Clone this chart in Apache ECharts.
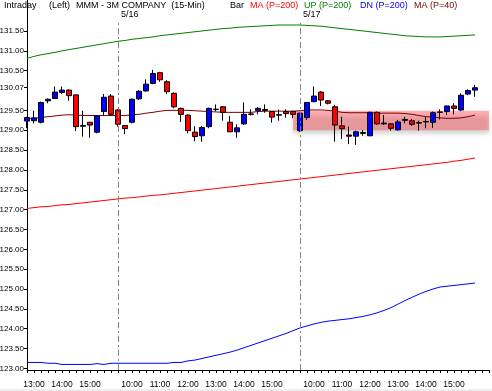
<!DOCTYPE html>
<html>
<head>
<meta charset="utf-8">
<script src="https://cdn.jsdelivr.net/npm/echarts@6/dist/echarts.min.js"></script>
<style>
html,body{margin:0;padding:0;background:#fff;}
#chart{width:492px;height:391px;}
</style>
</head>
<body>
<div id="chart"></div>
<script>
// ---- categories (15-min bar start times, 5/15 pm, 5/16, 5/17) ----
const times = [
 '12:45','13:00','13:15','13:30','13:45','14:00','14:15','14:30','14:45','15:00','15:15','15:30','15:45',
 '09:30','09:45','10:00','10:15','10:30','10:45','11:00','11:15','11:30','11:45','12:00','12:15','12:30',
 '12:45','13:00','13:15','13:30','13:45','14:00','14:15','14:30','14:45','15:00','15:15','15:30','15:45',
 '09:30','09:45','10:00','10:15','10:30','10:45','11:00','11:15','11:30','11:45','12:00','12:15','12:30',
 '12:45','13:00','13:15','13:30','13:45','14:00','14:15','14:30','14:45','15:00','15:15','15:30','15:45'
];
const dayLabels = ['5/16','5/17'];

// ---- OHLC ----
const opens = [129.23,129.24,129.20,129.74,129.80,129.95,130.01,129.89,129.10,129.20,128.95,129.47,129.86,
 129.51,129.12,129.20,129.79,129.99,130.18,130.45,130.22,129.93,129.55,129.38,128.95,128.86,129.09,129.52,129.59,129.20,128.96,129.16,129.40,129.49,129.52,129.47,129.38,129.47,129.47,
 128.99,129.32,129.72,129.96,129.74,129.59,129.11,128.88,128.85,128.92,128.86,129.45,129.18,129.16,129.01,129.25,129.24,129.19,129.21,129.20,129.45,129.47,129.61,129.51,129.91,130.01];
const closes = [129.32,129.31,129.70,129.78,129.96,130.01,129.87,129.09,129.12,129.13,129.36,129.83,129.40,
 129.15,129.04,129.78,129.98,130.16,130.43,130.27,129.97,129.59,129.40,128.99,128.84,129.07,129.55,129.53,129.45,128.96,129.06,129.40,129.41,129.55,129.50,129.33,129.39,129.42,129.40,
 129.43,129.70,129.86,129.76,129.68,129.13,129.04,128.85,128.96,128.94,129.45,129.16,129.16,129.05,129.21,129.27,129.15,129.18,129.22,129.44,129.46,129.61,129.55,129.88,130.00,130.07];
const lows = [129.05,129.17,129.17,129.68,129.79,129.91,129.74,128.98,128.84,128.81,128.92,129.38,129.37,
 129.09,128.90,129.17,129.76,129.97,130.16,130.22,129.91,129.55,129.21,128.92,128.72,128.71,129.05,129.48,129.24,128.95,128.81,129.13,129.37,129.40,129.44,129.19,129.24,129.32,129.30,
 128.96,129.26,129.70,129.61,129.65,128.71,128.78,128.65,128.63,128.86,128.85,129.13,129.13,128.99,128.99,129.17,129.11,128.99,129.05,129.06,129.27,129.38,129.40,129.48,129.88,129.84];
const highs = [129.34,129.49,129.72,129.80,130.10,130.10,130.03,129.90,129.49,129.21,129.38,129.91,129.91,
 129.53,129.13,129.80,130.01,130.28,130.52,130.47,130.26,129.95,129.57,129.40,129.10,129.11,129.57,129.65,129.61,129.36,129.15,129.70,129.53,129.58,129.65,129.48,129.52,129.53,129.49,
 129.44,129.71,130.10,129.98,129.76,129.64,129.34,129.09,128.99,129.01,129.47,129.47,129.38,129.17,129.26,129.34,129.28,129.24,129.33,129.47,129.53,129.62,129.68,129.93,130.03,130.14];

// ---- indicator lines ----
const ma200 = [127.03,127.05,127.07,127.08,127.10,127.12,127.13,127.15,127.17,127.19,127.21,127.23,127.25,
 127.27,127.29,127.30,127.32,127.34,127.36,127.37,127.39,127.41,127.43,127.45,127.47,127.49,127.51,127.53,127.55,127.57,127.59,127.61,127.63,127.65,127.67,127.69,127.71,127.73,127.75,
 127.77,127.79,127.81,127.83,127.85,127.87,127.89,127.91,127.93,127.95,127.97,127.99,128.01,128.03,128.05,128.07,128.09,128.11,128.13,128.15,128.17,128.19,128.22,128.24,128.27,128.30];
const up200 = [130.81,130.86,130.90,130.93,130.96,131.00,131.03,131.06,131.09,131.12,131.15,131.18,131.21,
 131.24,131.26,131.29,131.31,131.33,131.35,131.38,131.40,131.42,131.44,131.46,131.48,131.50,131.52,131.54,131.56,131.57,131.59,131.60,131.61,131.62,131.63,131.64,131.65,131.65,131.65,
 131.65,131.64,131.63,131.62,131.60,131.58,131.56,131.54,131.52,131.50,131.48,131.46,131.44,131.42,131.40,131.38,131.37,131.36,131.35,131.35,131.35,131.36,131.37,131.38,131.39,131.40];
const dn200 = [123.15,123.15,123.15,123.13,123.13,123.10,123.10,123.10,123.10,123.10,123.12,123.10,123.13,
 123.13,123.13,123.13,123.13,123.13,123.13,123.13,123.13,123.15,123.15,123.19,123.21,123.25,123.29,123.33,123.37,123.41,123.46,123.52,123.58,123.64,123.70,123.76,123.82,123.88,123.95,
 124.02,124.07,124.12,124.16,124.19,124.21,124.23,124.25,124.28,124.31,124.35,124.40,124.46,124.53,124.62,124.71,124.79,124.87,124.94,125.00,125.05,125.07,125.09,125.11,125.13,125.15];
const ma40 = [129.30,129.30,129.32,129.34,129.36,129.38,129.39,129.38,129.37,129.37,129.37,129.37,129.37,
 129.37,129.37,129.39,129.40,129.43,129.45,129.48,129.50,129.50,129.50,129.50,129.49,129.48,129.47,129.46,129.45,129.45,129.45,129.45,129.45,129.47,129.48,129.48,129.48,129.48,129.48,
 129.49,129.51,129.51,129.51,129.50,129.48,129.45,129.44,129.44,129.44,129.44,129.43,129.43,129.43,129.43,129.42,129.40,129.37,129.34,129.33,129.31,129.30,129.30,129.31,129.34,129.38];

// ---- y tick labels ----
const yTickValues = [123.00,123.50,124.00,124.50,125.00,125.50,126.00,126.50,127.00,127.50,128.00,128.50,129.00,129.50,130.07,130.50,131.00,131.50];

// highlighted zone
const zoneLow = 129.00, zoneHigh = 129.49, zoneStartIndex = 38;

const cats = times.concat(['', '']);
const candles = opens.map((o, i) => [o, closes[i], lows[i], highs[i]]);
const dayStarts = [];
times.forEach((t, i) => { if (t === '09:30') dayStarts.push(i); });

const chart = echarts.init(document.getElementById('chart'), null, {renderer: 'canvas'});
const FONT = 'Arial, "Liberation Sans", sans-serif';
const YMIN = 122.96, YMAX = 132.28;

chart.setOption({
  animation: false,
  backgroundColor: '#ffffff',
  grid: {left: 27, right: 3, top: 0, bottom: 21, containLabel: false, outerBoundsMode: 'none'},
  xAxis: {
    type: 'category', data: cats, boundaryGap: false,
    axisLine: {lineStyle: {color: '#000', width: 1}},
    axisTick: {show: true, interval: 0, length: 3, lineStyle: {color: '#000'}},
    axisLabel: {
      interval: (idx, val) => /:00$/.test(val),
      color: '#000', fontSize: 8.5, fontFamily: FONT, margin: 10
    },
    splitLine: {show: false}
  },
  yAxis: {
    type: 'value', min: YMIN, max: YMAX, scale: true,
    axisLine: {show: true, lineStyle: {color: '#000', width: 1}},
    axisTick: {show: true, length: 3, customValues: yTickValues, lineStyle: {color: '#000'}},
    axisLabel: {
      customValues: yTickValues,
      formatter: v => v.toFixed(2),
      color: '#000', fontSize: 8, fontFamily: FONT, margin: 3
    },
    splitLine: {show: false}
  },
  series: [
    {
      name: 'MA200', type: 'line', data: ma200, symbol: 'none', z: 2,
      lineStyle: {color: '#ff0000', width: 1}
    },
    {
      name: 'UP200', type: 'line', data: up200, symbol: 'none', z: 2,
      lineStyle: {color: '#008000', width: 1}
    },
    {
      name: 'DN200', type: 'line', data: dn200, symbol: 'none', z: 2,
      lineStyle: {color: '#0000ff', width: 1}
    },
    {
      name: 'MA40', type: 'line', data: ma40, symbol: 'none', z: 2,
      lineStyle: {color: '#800000', width: 1}
    },
    {
      name: 'Bar', type: 'candlestick', data: candles, barWidth: 5, z: 3,
      itemStyle: {color: '#0000ff', color0: '#ff0000', borderColor: '#000', borderColor0: '#000', borderWidth: 1},
      markLine: {
        silent: true, symbol: 'none', animation: false,
        label: {show: false},
        lineStyle: {color: '#808080', width: 1, type: [6, 3, 2, 3]},
        data: dayStarts.map(i => [{coord: [i, YMIN]}, {coord: [i, 131.75]}])
      }
    },
    {
      name: 'zone', type: 'line', data: [], z: 5,
      markArea: {
        silent: true,
        itemStyle: {
          color: 'rgba(255, 80, 90, 0.45)',
          shadowBlur: 5, shadowColor: 'rgba(0,0,0,0.4)', shadowOffsetY: 4
        },
        data: [[{coord: [zoneStartIndex, zoneHigh]}, {coord: [cats.length - 1, zoneLow]}]]
      }
    }
  ]
});

// header texts and day labels
const header = [
  {t: 'Intraday', x: 4, c: '#000'},
  {t: '(Left)', x: 49, c: '#000'},
  {t: 'MMM - 3M COMPANY  (15-Min)', x: 76, c: '#000'},
  {t: 'Bar', x: 230, c: '#000'},
  {t: 'MA (P=200)', x: 250, c: '#ff0000'},
  {t: 'UP (P=200)', x: 304, c: '#008000'},
  {t: 'DN (P=200)', x: 360, c: '#0000ff'},
  {t: 'MA (P=40)', x: 414, c: '#800000'}
];
const graphics = header.map(h => ({
  type: 'text', left: h.x, top: 1, z: 100,
  style: {text: h.t, fill: h.c, font: '9px Arial, "Liberation Sans", sans-serif'}
}));
dayStarts.forEach((idx, k) => {
  const p = chart.convertToPixel({gridIndex: 0}, [idx, YMAX]);
  graphics.push({
    type: 'text', left: p[0] + 3, top: 10, z: 100,
    style: {text: dayLabels[k], fill: '#000', font: '9px Arial, "Liberation Sans", sans-serif'}
  });
});
graphics.push({type: 'rect', left: 0, top: 389, shape: {width: 492, height: 2}, style: {fill: '#eeeeee'}, z: 100});
chart.setOption({graphic: graphics});
</script>
</body>
</html>
